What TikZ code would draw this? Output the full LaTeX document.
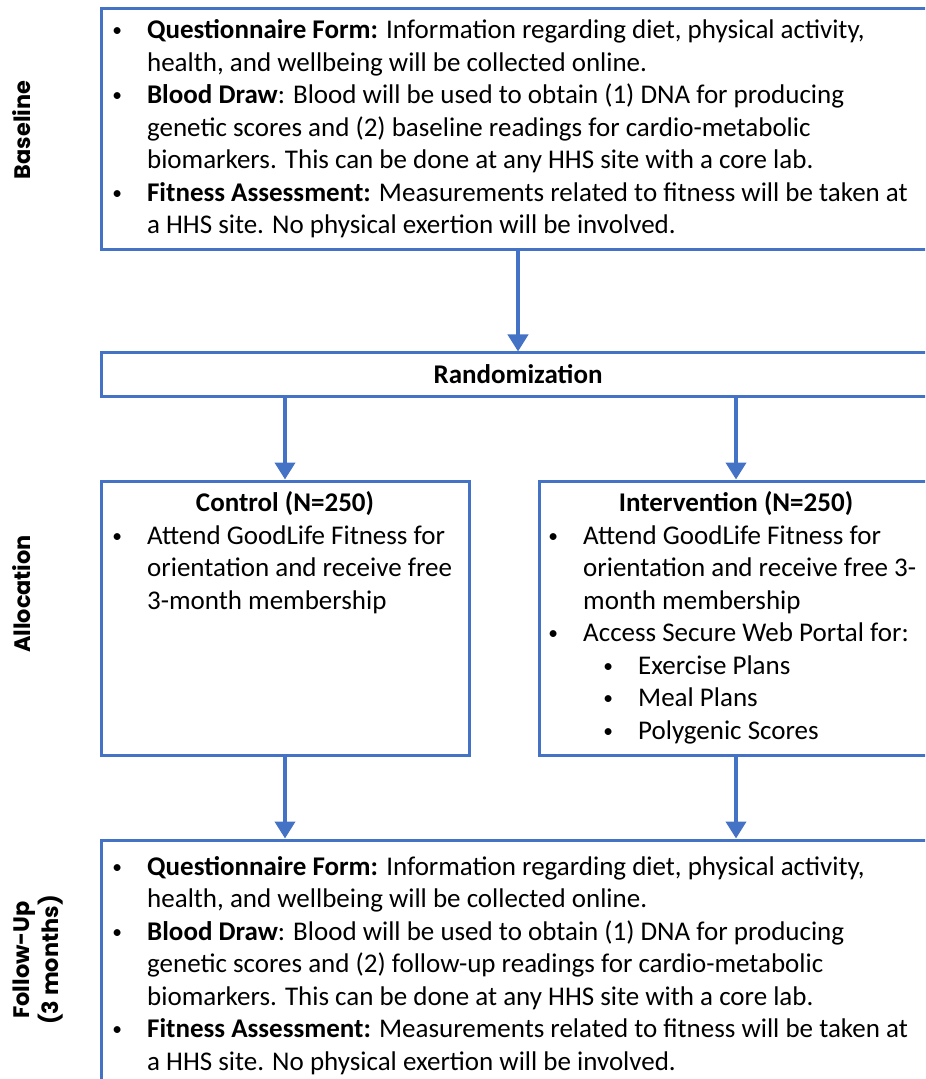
\documentclass[tikz,border=0pt]{standalone}
\usepackage{fontspec}
\setmainfont{Carlito}
\newfontfamily\sidefont{Poppins}
\usetikzlibrary{
  arrows.meta,
  fit
}
\definecolor{flowblue}{RGB}{68,114,196}
\newcommand{\itm}{\leavevmode\hbox to 0pt{\hss\raisebox{1pt}{\scalebox{0.72}{\textbullet}}\hss}\hspace*{15pt}}
\newcommand{\ind}{\hspace*{15pt}}
\newcommand{\blk}[1]{\parbox[t]{440pt}{\raggedright #1}}

\begin{document}
\begin{tikzpicture}[x=0.5pt, y=-0.5pt,
    box/.style = {draw=flowblue, line width=1.5pt, inner sep=0pt},
    txt/.style = {anchor=base west, inner sep=0pt,
      font=\fontsize{13.5}{16.25}\selectfont},
    head/.style = {anchor=base, inner sep=0pt,
      font=\fontsize{13.5}{16.25}\selectfont\bfseries},
    side/.style = {rotate=90, align=center, inner sep=0pt,
      font=\sidefont\bfseries\fontsize{11.2}{14.35}\selectfont},
    flow/.style = {draw=flowblue, line width=2pt,
      -{Triangle[width=10pt,length=8.5pt]}}]
  \useasboundingbox (0,0) rectangle (925,1079);
  \clip (0,0) rectangle (925,1079);
  % boxes
  \node[box, fit={(101,9) (935,250)}] (base) {};
  \node[box, fit={(101,353) (935,396)}] (rand) {};
  \node[box, fit={(101,481) (469,755)}] (ctrl) {};
  \node[box, fit={(539,481) (933,755)}] (intv) {};
  \node[box, fit={(101,840) (935,1110)}] (fup) {};
  % side labels
  \node[side] (lbase) at (22,130) {Baseline};
  \node[side] (lalloc) at (22,594) {Allocation};
  \node[side] (lfup) at (38,960) {Follow-Up\\(3 months)};
  % texts
  \node[txt] (tbase) at (116.7,39) {\blk{%
    \itm\textbf{Questionnaire Form:} Information regarding diet, physical activity,\\
    \ind health, and wellbeing will be collected online.\\
    \itm\textbf{Blood Draw}: Blood will be used to obtain (1) DNA for producing\\
    \ind genetic scores and (2) baseline readings for cardio-metabolic\\
    \ind biomarkers. This can be done at any HHS site with a core lab.\\
    \itm\textbf{Fitness Assessment:} Measurements related to fitness will be taken at\\
    \ind a HHS site. No physical exertion will be involved.}};
  \node[head] (trand) at (rand.center |- 0,383) {Randomization};
  \node[head] (hctrl) at (285,511.7) {Control (N=250)};
  \node[txt] (tctrl) at (116.8,544.2) {\blk{%
    \itm Attend GoodLife Fitness for\\
    \ind orientation and receive free\\
    \ind 3-month membership}};
  \node[head] (hintv) at (736,511.7) {Intervention (N=250)};
  \node[txt] (tintv) at (552.8,544.2) {\blk{%
    \itm Attend GoodLife Fitness for\\
    \ind orientation and receive free 3-\\
    \ind month membership\\
    \itm Access Secure Web Portal for:\\
    \hspace*{27.5pt}\itm Exercise Plans\\
    \hspace*{27.5pt}\itm Meal Plans\\
    \hspace*{27.5pt}\itm Polygenic Scores}};
  \node[txt] (tfup) at (116.8,875) {\blk{%
    \itm\textbf{Questionnaire Form:} Information regarding diet, physical activity,\\
    \ind health, and wellbeing will be collected online.\\
    \itm\textbf{Blood Draw}: Blood will be used to obtain (1) DNA for producing\\
    \ind genetic scores and (2) follow-up readings for cardio-metabolic\\
    \ind biomarkers. This can be done at any HHS site with a core lab.\\
    \itm\textbf{Fitness Assessment:} Measurements related to fitness will be taken at\\
    \ind a HHS site. No physical exertion will be involved.}};
  % arrows
  \draw[flow] (base.south) -- (rand.north);
  \draw[flow] (rand.south -| ctrl.north) -- (ctrl.north);
  \draw[flow] (rand.south -| intv.north) -- (intv.north);
  \draw[flow] (ctrl.south) -- (ctrl.south |- fup.north);
  \draw[flow] (intv.south) -- (intv.south |- fup.north);
\end{tikzpicture}
\end{document}
